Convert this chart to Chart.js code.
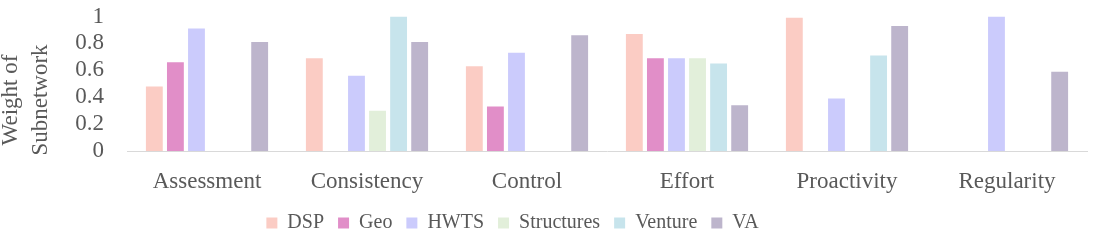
<!DOCTYPE html>
<html>
<head>
<meta charset="utf-8">
<script src="https://cdn.jsdelivr.net/npm/chart.js@4.4.1/dist/chart.umd.min.js"></script>
<style>
  html, body { margin: 0; padding: 0; background: #fff; }
  #wrap { position: relative; width: 1096px; height: 243px; }
</style>
</head>
<body>
<div id="wrap"><canvas id="chart"></canvas></div>
<script>
const categories = ['Assessment', 'Consistency', 'Control', 'Effort', 'Proactivity', 'Regularity'];

// weights, null where a subnetwork has no bar
const dsp        = [0.48, 0.69, 0.63, 0.87, 0.99, null];
const geo        = [0.66, null, 0.33, 0.69, null, null];
const hwts       = [0.91, 0.56, 0.73, 0.69, 0.39, 1.00];
const structures = [null, 0.30, null, 0.69, null, null];
const venture    = [null, 1.00, null, 0.65, 0.71, null];
const va         = [0.81, 0.81, 0.86, 0.34, 0.93, 0.59];

const yTicks = [0, 0.2, 0.4, 0.6, 0.8, 1];

const textColor = '#595959';
const fontFamily = "'Liberation Serif', 'DejaVu Serif', serif";

Chart.defaults.font.family = fontFamily;
Chart.defaults.color = textColor;

const series = [
  { label: 'DSP', data: dsp, color: '#fbccc4' },
  { label: 'Geo', data: geo, color: '#e18ec8' },
  { label: 'HWTS', data: hwts, color: '#cbcbfc' },
  { label: 'Structures', data: structures, color: '#e2efda' },
  { label: 'Venture', data: venture, color: '#c7e4ec' },
  { label: 'VA', data: va, color: '#bdb5cc' },
];

// two-line rotated axis title, sits a bit lower than the plot centre
const yTitle = {
  id: 'yTitle',
  afterDraw(chart) {
    const ctx = chart.ctx;
    ctx.save();
    ctx.fillStyle = textColor;
    ctx.font = '23px ' + fontFamily;
    ctx.textAlign = 'center';
    ctx.textBaseline = 'middle';
    [['Weight of', 11], ['Subnetwork', 41]].forEach(([txt, x]) => {
      ctx.save();
      ctx.translate(x, 100);
      ctx.rotate(-Math.PI / 2);
      ctx.fillText(txt, 0, 0);
      ctx.restore();
    });
    ctx.restore();
  }
};

// nudge the legend to where the original puts it
const legendShift = {
  id: 'legendShift',
  afterLayout(chart) {
    const lg = chart.legend;
    const dx = -31;
    lg.left += dx;
    lg.right += dx;
  }
};

new Chart(document.getElementById('chart'), {
  type: 'bar',
  data: {
    labels: categories,
    datasets: series.map(s => ({
      label: s.label,
      data: s.data,
      backgroundColor: s.color,
      borderWidth: 0,
      barPercentage: 0.8,
      categoryPercentage: 0.79,
    })),
  },
  options: {
    responsive: true,
    maintainAspectRatio: false,
    animation: false,
    layout: { padding: { top: 16.5, right: 9, left: 0, bottom: 0 } },
    plugins: {
      tooltip: { enabled: false },
      legend: {
        position: 'bottom',
        labels: {
          boxWidth: 11,
          boxHeight: 11,
          padding: 14,
          color: textColor,
          font: { family: 'Liberation Serif', size: 20, weight: 'normal' },
        },
      },
    },
    scales: {
      x: {
        grid: { display: false, drawTicks: false },
        border: { display: true, color: '#d9d9d9', width: 1 },
        ticks: { color: textColor, padding: 17, font: { family: fontFamily, size: 23 } },
        afterFit: (scale) => { scale.height = 48; },
      },
      y: {
        min: 0,
        max: 1,
        grid: { display: false, drawTicks: false },
        border: { display: false },
        afterBuildTicks: (scale) => { scale.ticks = yTicks.map(v => ({ value: v })); },
        ticks: {
          color: textColor,
          padding: 23,
          autoSkip: false,
          font: { family: fontFamily, size: 23 },
          callback: (v) => String(v),
        },
        afterFit: (scale) => {
          scale.width = 127;
          scale.paddingTop = 0;
          scale.paddingBottom = 0;
        },
      },
    },
  },
  plugins: [yTitle, legendShift],
});
</script>
</body>
</html>
